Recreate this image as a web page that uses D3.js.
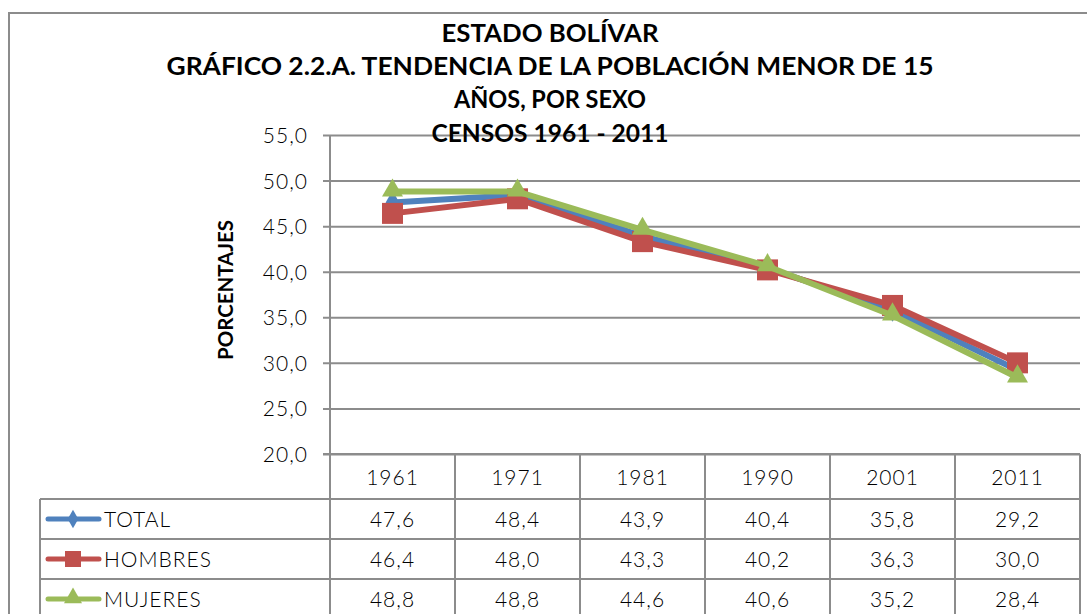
<!DOCTYPE html>
<html>
<head>
<meta charset="utf-8">
<script src="https://cdn.jsdelivr.net/npm/d3@7"></script>
<style>
  body { margin: 0; background: #fff; }
  svg { display: block; }
  .title { font-family: Lato, "Open Sans", sans-serif; font-weight: bold; font-size: 25px; fill: #000; }
  .tick-label, .cell, .legend-label { font-family: Lato, "Open Sans", sans-serif; font-weight: 300; font-size: 21px; letter-spacing: 1px; fill: #000; }
  .y-title { font-family: Lato, "Open Sans", sans-serif; font-weight: bold; font-size: 20px; fill: #000; }
</style>
</head>
<body>
<div id="chart"></div>
<script>
// data
var years = ["1961", "1971", "1981", "1990", "2001", "2011"];
var seriesNames = ["TOTAL", "HOMBRES", "MUJERES"];
var totalValues = [47.6, 48.4, 43.9, 40.4, 35.8, 29.2];
var hombresValues = [46.4, 48.0, 43.3, 40.2, 36.3, 30.0];
var mujeresValues = [48.8, 48.8, 44.6, 40.6, 35.2, 28.4];
var yTicks = [20, 25, 30, 35, 40, 45, 50, 55];
var titleLines = ["ESTADO BOLÍVAR",
  "GRÁFICO 2.2.A. TENDENCIA DE LA POBLACIÓN MENOR DE 15",
  "AÑOS, POR SEXO",
  "CENSOS 1961 - 2011"];

var svgWidth = 1087;
var svgHeight = 614;

var plot = { left: 330, right: 1080, top: 135, bottom: 454 };
var legendLeft = 40;
var headerHeight = 45;
var rowHeight = 40;

var colors = ["#4F81BD", "#C0504D", "#9BBB59"];
var gridColor = "#8c8c8c";

var series = [
  { name: seriesNames[0], values: totalValues, color: colors[0], marker: "diamond" },
  { name: seriesNames[1], values: hombresValues, color: colors[1], marker: "square" },
  { name: seriesNames[2], values: mujeresValues, color: colors[2], marker: "triangle" }
];

var svg = d3.select("#chart")
  .append("svg")
  .attr("width", svgWidth)
  .attr("height", svgHeight);

// outer chart border (right side runs off the picture)
svg.append("rect")
  .attr("x", 9)
  .attr("y", 13)
  .attr("width", 1100)
  .attr("height", 700)
  .attr("fill", "none")
  .attr("stroke", gridColor)
  .attr("stroke-width", 2);

// scales
var xScale = d3.scaleBand()
  .domain(years)
  .range([plot.left, plot.right])
  .padding(0);

var yScale = d3.scaleLinear()
  .domain([20, 55])
  .range([plot.bottom, plot.top]);

var xCenter = d => xScale(d) + xScale.bandwidth() / 2;

// y axis with gridlines
var leftAxis = d3.axisLeft(yScale)
  .tickValues(yTicks)
  .tickSize(-(plot.right - plot.left))
  .tickPadding(16)
  .tickFormat(d => d3.format(".1f")(d).replace(".", ","));

var yAxis = svg.append("g")
  .attr("transform", `translate(${plot.left}, 0)`)
  .call(leftAxis);

yAxis.select(".domain").remove();
yAxis.selectAll(".tick line")
  .attr("x1", -7)
  .attr("stroke", gridColor)
  .attr("stroke-width", 2);
yAxis.selectAll(".tick text")
  .attr("class", "tick-label")
  .attr("x", -22)
  .attr("dy", "0.36em");

// vertical axis line
svg.append("line")
  .attr("x1", plot.left).attr("x2", plot.left)
  .attr("y1", plot.top).attr("y2", plot.bottom)
  .attr("stroke", gridColor)
  .attr("stroke-width", 2);

// y axis title
svg.append("text")
  .attr("class", "y-title")
  .attr("transform", "translate(233, 290) rotate(-90)")
  .attr("text-anchor", "middle")
  .attr("textLength", 140)
  .attr("lengthAdjust", "spacingAndGlyphs")
  .text("PORCENTAJES");

// title
var titleWidths = [217, 767, 192, 237];
var titleBaselines = [42, 75, 108, 142];
svg.selectAll(".title")
  .data(titleLines)
  .enter()
  .append("text")
  .attr("class", "title")
  .attr("x", 550)
  .attr("y", (d, i) => titleBaselines[i])
  .attr("text-anchor", "middle")
  .attr("textLength", (d, i) => titleWidths[i])
  .attr("lengthAdjust", "spacingAndGlyphs")
  .text(d => d);

// markers
function markerPath(type, size) {
  if (type === "square") return d3.symbol().type(d3.symbolSquare).size(size * size)();
  if (type === "triangle") return d3.symbol().type(d3.symbolTriangle).size(size * size * 0.433)();
  return d3.symbol().type(d3.symbolDiamond).size(size * size * 0.5)();
}
var markerSizes = { diamond: 18, square: 21, triangle: 21 };

var line = d3.line()
  .x((d, i) => xCenter(years[i]))
  .y(d => yScale(d));

series.forEach(function(s) {
  var g = svg.append("g");
  g.append("path")
    .datum(s.values)
    .attr("d", line)
    .attr("fill", "none")
    .attr("stroke", s.color)
    .attr("stroke-width", 6)
    .attr("stroke-linejoin", "round");

  g.selectAll("path.marker")
    .data(s.values)
    .enter()
    .append("path")
    .attr("class", "marker")
    .attr("d", markerPath(s.marker, markerSizes[s.marker]))
    .attr("transform", (d, i) => `translate(${xCenter(years[i])}, ${yScale(d) + (s.marker === "triangle" ? -1 : 0)})`)
    .attr("fill", s.color);
});

// data table
var tableTop = plot.bottom;
var tableLines = svg.append("g")
  .attr("stroke", gridColor)
  .attr("stroke-width", 2);

// header row bottom and row separators
var rowY = [tableTop + headerHeight];
for (var r = 1; r <= series.length; r++) rowY.push(tableTop + headerHeight + r * rowHeight);

tableLines.append("line")
  .attr("x1", plot.left - 7).attr("x2", plot.right)
  .attr("y1", tableTop).attr("y2", tableTop);

rowY.forEach(function(y) {
  tableLines.append("line")
    .attr("x1", legendLeft).attr("x2", plot.right)
    .attr("y1", y).attr("y2", y);
});

// column separators
years.forEach(function(yr) {
  tableLines.append("line")
    .attr("x1", xScale(yr)).attr("x2", xScale(yr))
    .attr("y1", tableTop).attr("y2", svgHeight + 10);
});
tableLines.append("line")
  .attr("x1", plot.right).attr("x2", plot.right)
  .attr("y1", tableTop).attr("y2", svgHeight + 10);
tableLines.append("line")
  .attr("x1", legendLeft).attr("x2", legendLeft)
  .attr("y1", tableTop + headerHeight).attr("y2", svgHeight + 10);

// header years
svg.selectAll(".year")
  .data(years)
  .enter()
  .append("text")
  .attr("class", "cell")
  .attr("x", d => xCenter(d))
  .attr("y", tableTop + headerHeight / 2 + 8)
  .attr("text-anchor", "middle")
  .text(d => d);

// rows
series.forEach(function(s, r) {
  var cy = tableTop + headerHeight + r * rowHeight + rowHeight / 2;

  svg.selectAll(null)
    .data(s.values)
    .enter()
    .append("text")
    .attr("class", "cell")
    .attr("x", (d, i) => xCenter(years[i]))
    .attr("y", cy + 8)
    .attr("text-anchor", "middle")
    .text(d => d3.format(".1f")(d).replace(".", ","));

  // legend key
  svg.append("line")
    .attr("x1", 48).attr("x2", 99)
    .attr("y1", cy).attr("y2", cy)
    .attr("stroke", s.color)
    .attr("stroke-width", 5)
    .attr("stroke-linecap", "round");
  svg.append("path")
    .attr("d", markerPath(s.marker, s.marker === "square" ? 16 : (s.marker === "triangle" ? 18 : 14)))
    .attr("transform", `translate(73, ${cy + (s.marker === "triangle" ? -1 : 0)})`)
    .attr("fill", s.color);

  svg.append("text")
    .attr("class", "legend-label")
    .attr("x", 104)
    .attr("y", cy + 8)
    .text(s.name);
});
</script>
</body>
</html>
